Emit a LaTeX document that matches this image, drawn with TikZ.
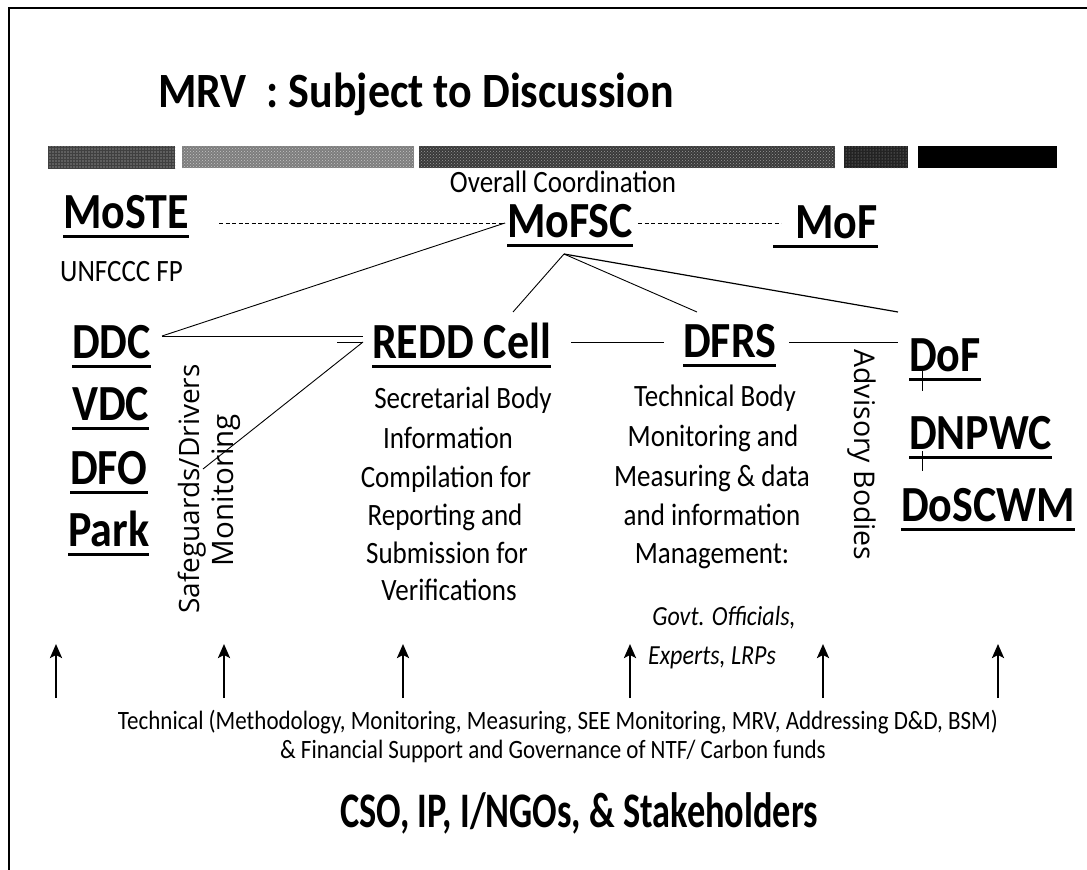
\documentclass[tikz,border=0pt]{standalone}
\usepackage{fontspec}
\usepackage{graphicx}
\setmainfont{Carlito}
\newfontfamily\osans{Open Sans}
\usetikzlibrary{arrows.meta,patterns}
\newcommand\ulx[1]{\setbox0\hbox{#1}\rlap{\vrule width\wd0 height -6.5pt depth 9.5pt}\box0}
\newcommand\vs[1]{\scalebox{1}[1.15]{#1}}
\newcommand\lab[1]{\ulx{\vs{#1}}}
\definecolor{barA}{RGB}{95,95,95}
\definecolor{barB}{RGB}{125,125,125}
\definecolor{barC}{RGB}{58,58,58}
\definecolor{barD}{RGB}{35,35,35}
\begin{document}
\begin{tikzpicture}[x=1pt,y=-1pt,
  lbl/.style={font=\bfseries\fontsize{44}{50}\selectfont, inner sep=0pt, anchor=base west},
  body/.style={font=\fontsize{27}{32}\selectfont, inner sep=0pt, anchor=base},
  rot/.style={font=\osans\fontsize{28}{32}\selectfont, inner sep=0pt, anchor=center},
  con/.style={line width=0.9pt},
  dsh/.style={line width=0.8pt, dash pattern=on 4pt off 2.5pt},
  uparrow/.style={line width=2.4pt, -{Stealth[length=14pt,width=12pt,inset=3pt]}},
  tick/.style={line width=0.8pt}
]
\useasboundingbox (0,0) rectangle (1087,870);
\fill[white] (0,0) rectangle (1087,870);
\draw[line width=2.5pt] (9,870) -- (9,8) -- (1087,8);

% title
\node[font=\bfseries\fontsize{44}{50}\selectfont, inner sep=0pt, anchor=base west] (title) at (158,107) {\scalebox{1}[1.12]{MRV\ \ : Subject to Discussion}};

% bars
\fill[barA] (48,146) rectangle (175,168);
\fill[pattern=grid, pattern color=black!75] (48,146) rectangle (175,168);
\fill[barB] (182,146) rectangle (414,168);
\fill[pattern=crosshatch dots, pattern color=gray!45] (182,146) rectangle (414,168);
\fill[barC] (419,146) rectangle (835,168);
\fill[pattern=crosshatch dots, pattern color=gray!80] (419,146) rectangle (835,168);
\fill[barD] (844,146) rectangle (908,168);
\fill[pattern=dots, pattern color=gray!70] (844,146) rectangle (908,168);
\fill[black] (918,146) rectangle (1057,168);

% top level
\node[body] (coord) at (563,192) {\vs{Overall Coordination}};
\node[lbl] (moste) at (63,228) {\lab{MoSTE}};
\node[lbl] (mofsc) at (507,237) {\lab{MoFSC}};
\node[lbl] (mof) at (773,238) {\ulx{\hspace{22pt}\vs{MoF}}};
\node[body, anchor=base west] (unfccc) at (60,281) {\vs{UNFCCC FP}};

% second level
\node[lbl] (ddc) at (72,358) {\lab{DDC}};
\node[lbl] (vdc) at (72,420) {\lab{VDC}};
\node[lbl] (dfo) at (70,484) {\lab{DFO}};
\node[lbl] (park) at (68,546) {\lab{Park}};
\node[lbl] (redd) at (372,358) {\lab{REDD Cell}};
\node[lbl] (dfrs) at (683,357) {\lab{DFRS}};
\node[lbl] (dof) at (909,371) {\lab{DoF}};
\node[lbl] (dnpwc) at (909,449) {\lab{DNPWC}};
\node[lbl] (doscwm) at (901,521) {\lab{DoSCWM}};

% rotated labels
\node[rot, rotate=90] (safe) at (192,489) {Safeguards/Drivers};
\node[rot, rotate=90, font=\osans\fontsize{29.5}{32}\selectfont] (monit) at (226,490) {Monitoring};
\node[rot, rotate=-90, font=\osans\fontsize{28.5}{32}\selectfont] (adv) at (862,455) {Advisory Bodies};

% REDD text
\node[body] (r1) at (463,408) {\vs{Secretarial Body}};
\node[body] (r2) at (448,448) {\vs{Information}};
\node[body] (r3) at (446,487) {\vs{Compilation for}};
\node[body] (r4) at (445,525) {\vs{Reporting and}};
\node[body] (r5) at (447,563) {\vs{Submission for}};
\node[body] (r6) at (449,600) {\vs{Verifications}};

% DFRS text
\node[body] (d1) at (715,406) {\vs{Technical Body}};
\node[body] (d2) at (713,446) {\vs{Monitoring and}};
\node[body] (d3) at (712,486) {\vs{Measuring \& data}};
\node[body] (d4) at (712,525) {\vs{and information}};
\node[body] (d5) at (712,563) {\vs{Management:}};
\node[body, font=\itshape\fontsize{24}{28}\selectfont] (g1) at (724,625) {\vs{Govt. Officials,}};
\node[body, font=\itshape\fontsize{24}{28}\selectfont] (g2) at (712,664) {\vs{Experts, LRPs}};

% bottom text
\node[body, font=\fontsize{23}{28}\selectfont] (b1) at (558,729) {\vs{Technical (Methodology, Monitoring, Measuring, SEE Monitoring, MRV, Addressing D\&D, BSM)}};
\node[body, font=\fontsize{23}{28}\selectfont] (b2) at (553,758) {\vs{\& Financial Support and Governance of NTF/ Carbon funds}};
\node[body, font=\bfseries] (b3) at (579,827) {\resizebox{478pt}{32pt}{\raisebox{0pt}[0.644em][0pt]{CSO, IP, I/NGOs, \& Stakeholders}}};

% connector end points
\coordinate (mosteE) at (219,223);
\coordinate (mofscW) at (505,223);
\coordinate (mofscE) at (638,223);
\coordinate (mofW) at (781,223);
\coordinate (apex) at (564,254);
\coordinate (ddcE) at (162,336);
\coordinate (reddW) at (363,336);
\coordinate (reddW2) at (363,342);
\coordinate (tickL) at (337,342);
\coordinate (safeT) at (203,469);
\coordinate (reddN) at (513,312);
\coordinate (dfrsN) at (697,312);
\coordinate (dofN) at (898,312);
\coordinate (reddE) at (571,342);
\coordinate (dfrsW) at (664,342);
\coordinate (dfrsE) at (789,342);
\coordinate (dofW) at (898,342);

\draw[dsh] (mosteE) -- (mofscW);
\draw[dsh] (mofscE) -- (mofW);
\draw[con] (mofscW) -- (ddcE);
\draw[con] (ddcE) -- (reddW);
\draw[con] (tickL) -- (reddW2);
\draw[con] (reddW2) -- (safeT);
\draw[con] (apex) -- (reddN);
\draw[con] (apex) -- (dfrsN);
\draw[con,line width=1.2pt] (apex) -- (dofN);
\draw[con] (reddE) -- (dfrsW);
\draw[con] (dfrsE) -- (dofW);
\draw[tick] (922,371) -- (922,391);
\draw[tick] (922,451) -- (922,471);

% arrows
\foreach \i/\x in {1/56,2/224,3/403,4/630,5/823,6/998}{
  \coordinate (ab\i) at (\x,698);
  \coordinate (at\i) at (\x,644);
  \draw[uparrow] (ab\i) -- (at\i);
}
\end{tikzpicture}
\end{document}
